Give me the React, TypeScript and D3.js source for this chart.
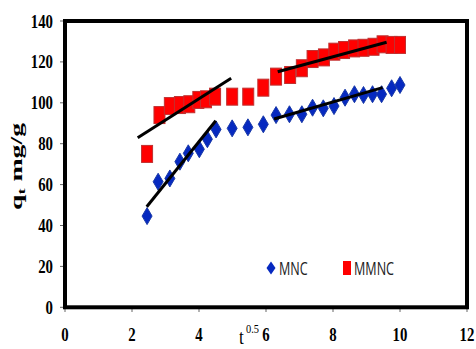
import React from "react";
import * as d3 from "d3";

const mncX = [2.45, 2.78, 3.13, 3.43, 3.68, 4.01, 4.25, 4.51, 4.99, 5.46, 5.92, 6.30, 6.70, 7.07, 7.39, 7.71, 8.03, 8.36, 8.64, 8.91, 9.18, 9.45, 9.75, 10.0];
const mncY = [44.6, 61.4, 63.0, 71.2, 75.3, 77.3, 82.2, 87.0, 87.5, 88.0, 89.5, 94.0, 94.4, 94.4, 97.6, 97.3, 98.4, 102.5, 104.2, 103.8, 104.2, 104.2, 107.1, 108.7];
const mmncX = [2.45, 2.82, 3.13, 3.43, 3.71, 3.98, 4.21, 4.48, 4.99, 5.47, 5.92, 6.30, 6.72, 7.07, 7.39, 7.73, 8.04, 8.33, 8.63, 8.91, 9.21, 9.48, 9.75, 10.0];
const mmncY = [75.0, 94.0, 98.4, 98.9, 99.3, 101.4, 101.7, 103.0, 103.0, 103.0, 107.4, 112.8, 113.6, 116.9, 121.4, 122.2, 125.0, 125.8, 126.6, 126.9, 127.4, 128.6, 128.3, 128.3];
// fit lines: [x1, y1, x2, y2]
const fitLines = [
  [2.17, 82.9, 4.96, 112.0],
  [6.35, 115.2, 9.6, 129.6],
  [2.44, 49.2, 4.5, 91.2],
  [6.24, 92.1, 9.48, 107.4],
];
const xTicks = [0, 2, 4, 6, 8, 10, 12];
const yTicks = [0, 20, 40, 60, 80, 100, 120, 140];
const seriesNames = ["MNC", "MMNC"];

const W = 476, H = 349;
const x = d3.scaleLinear().domain([0, 12]).range([65, 467]);
const y = d3.scaleLinear().domain([0, 140]).range([307.3, 21]);

const serif = "'Liberation Serif', 'Times New Roman', serif";
const sans = "'Open Sans', 'Noto Sans', sans-serif";

function diamond(cx: number, cy: number, w: number, h: number) {
  return `M${cx},${cy - h / 2}L${cx + w / 2},${cy}L${cx},${cy + h / 2}L${cx - w / 2},${cy}Z`;
}

export default function App() {
  const blue = "#0629c0";
  const blueStroke = "#1a3aa8";
  const red = "#ff0000";
  const redStroke = "#c03030";
  return (
    <svg width={W} height={H} style={{ position: "absolute", left: 0, top: 0, background: "#fff" }}>
      {/* ticks */}
      {yTicks.map((t) => (
        <line key={"yt" + t} x1={60} x2={65} y1={y(t)} y2={y(t)} stroke="#666" strokeWidth={1} />
      ))}
      {xTicks.map((t) => (
        <line key={"xt" + t} x1={x(t)} x2={x(t)} y1={307} y2={312} stroke="#666" strokeWidth={1} />
      ))}
      {/* tick labels */}
      {yTicks.map((t) => (
        <text
          key={"yl" + t}
          transform={`translate(53,${y(t) + 6.5}) scale(0.78,1)`}
          textAnchor="end"
          fontFamily={serif}
          fontWeight="bold"
          fontSize={19}
          fill="#000"
        >
          {t}
        </text>
      ))}
      {xTicks.map((t) => (
        <text
          key={"xl" + t}
          transform={`translate(${x(t)},341) scale(0.78,1)`}
          textAnchor="middle"
          fontFamily={serif}
          fontWeight="bold"
          fontSize={19}
          fill="#000"
        >
          {t}
        </text>
      ))}
      {/* axis titles */}
      <text
        transform={`translate(22,166.5) rotate(-90)`}
        textAnchor="middle"
        fontFamily={serif}
        fontWeight="bold"
        fontSize={17}
        textLength={87}
        lengthAdjust="spacingAndGlyphs"
        fill="#000"
      >
        q<tspan fontSize={11} dy={3}>t</tspan>
        <tspan dy={-3}> mg/g</tspan>
      </text>
      <text transform="translate(239,344) scale(0.78,1)" fontFamily={serif} fontSize={22} fill="#000">
        t
      </text>
      <text transform="translate(246,333) scale(0.8,1)" fontFamily={serif} fontSize={13} fill="#000">
        0.5
      </text>
      {/* markers */}
      {mncX.map((v, i) => (
        <path key={"m" + i} d={diamond(x(v), y(mncY[i]), 10, 17)} fill={blue} stroke={blueStroke} strokeWidth={1} />
      ))}
      {mmncX.map((v, i) => (
        <rect
          key={"r" + i}
          x={x(v) - 5.5}
          y={y(mmncY[i]) - 8.5}
          width={11}
          height={17}
          fill={red}
          stroke={redStroke}
          strokeWidth={1}
        />
      ))}
      {/* fit lines */}
      {fitLines.map((l, i) => (
        <line key={"f" + i} x1={x(l[0])} y1={y(l[1])} x2={x(l[2])} y2={y(l[3])} stroke="#000" strokeWidth={3} />
      ))}
      {/* frame */}
      <rect x={x(0)} y={y(140)} width={x(12) - x(0)} height={y(0) - y(140)} fill="none" stroke="#000" strokeWidth={4} />
      {/* legend */}
      <path d={diamond(271, 268, 9, 13)} fill={blue} />
      <text transform="translate(279,275) scale(0.72,1)" fontFamily={sans} fontSize={17.5} fill="#222">
        {seriesNames[0]}
      </text>
      <rect x={343} y={261} width={8} height={14} fill={red} />
      <text transform="translate(354,275) scale(0.72,1)" fontFamily={sans} fontSize={17.5} fill="#222">
        {seriesNames[1]}
      </text>
    </svg>
  );
}
